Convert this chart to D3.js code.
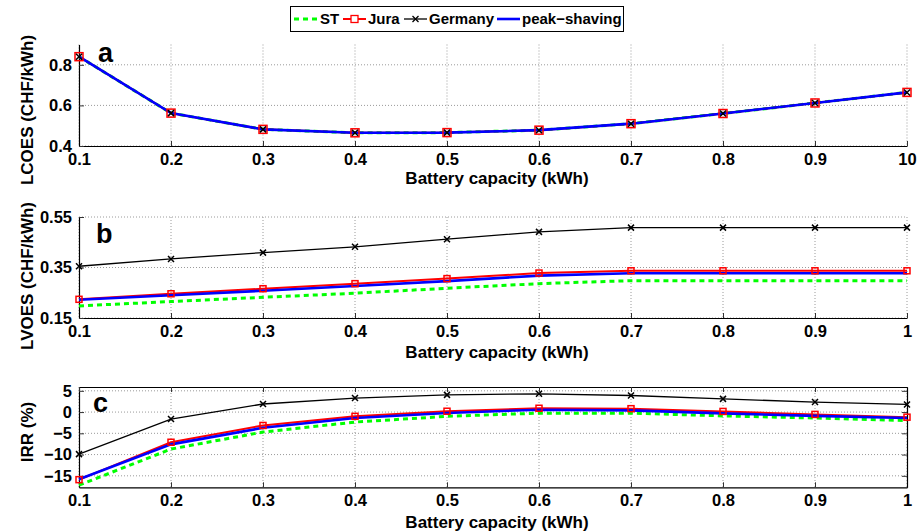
<!DOCTYPE html>
<html>
<head>
<meta charset="utf-8">
<script src="https://cdn.jsdelivr.net/npm/d3@7"></script>
<style>
  body { margin: 0; background: #fff; }
  svg { font-family: "Liberation Sans", Arial, sans-serif; font-weight: bold; }
  .grid line { stroke: #9a9a9a; stroke-width: 1; stroke-dasharray: 1,2; }
</style>
</head>
<body>
<svg id="chart" width="917" height="532"></svg>
<script>
// battery capacity (x values) and tick labels
var capacity = [0.1, 0.2, 0.3, 0.4, 0.5, 0.6, 0.7, 0.8, 0.9, 1.0];
var xLabelsA = ["0.1", "0.2", "0.3", "0.4", "0.5", "0.6", "0.7", "0.8", "0.9", "10"];
var xLabels = ["0.1", "0.2", "0.3", "0.4", "0.5", "0.6", "0.7", "0.8", "0.9", "1"];

// panel a: LCOES (CHF/kWh)
var lcoesST      = [0.840, 0.562, 0.482, 0.465, 0.466, 0.478, 0.510, 0.560, 0.612, 0.664];
var lcoesJura    = [0.840, 0.562, 0.482, 0.465, 0.466, 0.478, 0.510, 0.560, 0.612, 0.664];
var lcoesGermany = [0.840, 0.562, 0.482, 0.465, 0.466, 0.478, 0.510, 0.560, 0.612, 0.664];
var lcoesPeak    = [0.840, 0.562, 0.482, 0.465, 0.466, 0.478, 0.510, 0.560, 0.612, 0.664];

// panel b: LVOES (CHF/kWh)
var lvoesST      = [0.198, 0.215, 0.232, 0.248, 0.268, 0.286, 0.298, 0.298, 0.298, 0.298];
var lvoesJura    = [0.224, 0.246, 0.266, 0.286, 0.306, 0.328, 0.337, 0.337, 0.337, 0.337];
var lvoesGermany = [0.355, 0.384, 0.409, 0.432, 0.462, 0.491, 0.508, 0.508, 0.508, 0.508];
var lvoesPeak    = [0.222, 0.240, 0.258, 0.277, 0.296, 0.318, 0.327, 0.327, 0.327, 0.327];

// panel c: IRR (%)
var irrST      = [-17.2, -8.7, -4.7, -2.35, -1.0, -0.25, -0.25, -0.9, -1.4, -2.0];
var irrJura    = [-15.9, -7.1, -3.15, -1.0, 0.2, 0.9, 0.8, 0.15, -0.55, -1.2];
var irrGermany = [-9.9, -1.65, 1.9, 3.3, 4.05, 4.3, 3.9, 3.1, 2.35, 1.8];
var irrPeak    = [-15.8, -7.6, -3.7, -1.4, -0.2, 0.55, 0.4, -0.3, -0.9, -1.4];

var seriesNames = ["ST", "Jura", "Germany", "peak\u2212shaving"];

var svg = d3.select("#chart");
var left = 79, right = 907;

var x = d3.scaleLinear().domain([0.1, 1.0]).range([left, right]);

var styles = [
  {color: "#00ff00", width: 3, dash: "5,4", marker: null},
  {color: "#ff0000", width: 2, dash: null, marker: "square"},
  {color: "#000000", width: 1.3, dash: null, marker: "cross"},
  {color: "#0000ff", width: 2.6, dash: null, marker: null}
];

function drawPanel(cfg) {
  var y = d3.scaleLinear().domain(cfg.yDomain).range([cfg.bottom, cfg.top]);
  var g = svg.append("g");

  // grid
  var grid = g.append("g").attr("class", "grid");
  grid.selectAll(".gx").data(capacity).enter().append("line")
      .attr("x1", function(d) { return x(d); }).attr("x2", function(d) { return x(d); })
      .attr("y1", cfg.top).attr("y2", cfg.bottom);
  grid.selectAll(".gy").data(cfg.yTicks).enter().append("line")
      .attr("x1", left).attr("x2", right)
      .attr("y1", function(d) { return y(d); }).attr("y2", function(d) { return y(d); });

  // axes, ticks inward
  var xAxis = d3.axisBottom(x).tickValues(capacity)
      .tickFormat(function(d, i) { return cfg.xLabels[i]; })
      .tickSizeInner(-5).tickSizeOuter(0).tickPadding(7);
  var gx = g.append("g").attr("transform", "translate(0," + cfg.bottom + ")").call(xAxis);

  var yAxis = d3.axisLeft(y).tickValues(cfg.yTicks)
      .tickFormat(cfg.yFormat)
      .tickSizeInner(-5).tickSizeOuter(0).tickPadding(7);
  var gy = g.append("g").attr("transform", "translate(" + left + ",0)").call(yAxis);

  [gx, gy].forEach(function(a) {
    a.select(".domain").attr("stroke", "#000").attr("stroke-width", 1.2);
    a.selectAll(".tick line").attr("stroke", "#333");
    a.selectAll("text").attr("font-size", 16.5).attr("font-weight", "bold").attr("fill", "#000")
      .attr("font-family", "Liberation Sans, Arial, sans-serif");
  });

  if (cfg.box) {
    g.append("g").attr("transform", "translate(0," + cfg.top + ")")
      .call(d3.axisTop(x).tickValues(capacity).tickFormat("").tickSizeInner(-5).tickSizeOuter(0))
      .call(function(a) { a.select(".domain").attr("stroke", "#000").attr("stroke-width", 1.2); a.selectAll(".tick line").attr("stroke", "#333"); });
    g.append("g").attr("transform", "translate(" + right + ",0)")
      .call(d3.axisRight(y).tickValues(cfg.yTicks).tickFormat("").tickSizeInner(-5).tickSizeOuter(0))
      .call(function(a) { a.select(".domain").attr("stroke", "#000").attr("stroke-width", 1.2); a.selectAll(".tick line").attr("stroke", "#333"); });
  }

  // lines
  var line = d3.line()
      .x(function(d, i) { return x(capacity[i]); })
      .y(function(d) { return y(d); });

  [0, 1, 2, 3].forEach(function(k) {
    var s = styles[k];
    g.append("path")
      .datum(cfg.series[k])
      .attr("fill", "none")
      .attr("stroke", s.color)
      .attr("stroke-width", s.width)
      .attr("stroke-dasharray", s.dash)
      .attr("d", line);
  });

  // markers
  var ms = cfg.markerSize;
  g.selectAll(".sq").data(cfg.series[1]).enter().append("rect")
      .attr("x", function(d, i) { return x(capacity[i]) - ms / 2; })
      .attr("y", function(d) { return y(d) - ms / 2; })
      .attr("width", ms).attr("height", ms)
      .attr("fill", "none").attr("stroke", "#ff0000").attr("stroke-width", 1.5);
  g.selectAll(".cr").data(cfg.series[2]).enter().append("path")
      .attr("transform", function(d, i) { return "translate(" + x(capacity[i]) + "," + y(d) + ")"; })
      .attr("d", "M-3,-3L3,3M-3,3L3,-3")
      .attr("stroke", "#000").attr("stroke-width", 1.5);

  // panel letter
  g.append("text").attr("x", cfg.letterX).attr("y", cfg.letterY)
      .attr("font-size", 27).attr("font-weight", "bold").text(cfg.letter);

  // axis titles
  g.append("text").attr("x", (left + right) / 2 + 4).attr("y", cfg.xTitleY)
      .attr("text-anchor", "middle").attr("dy", "0.35em")
      .attr("font-size", 17).text("Battery capacity (kWh)");
  g.append("text")
      .attr("transform", "translate(27," + cfg.yTitleY + ") rotate(-90)")
      .attr("text-anchor", "middle").attr("dy", "0.35em")
      .attr("font-size", 17).text(cfg.yTitle);
}

drawPanel({
  top: 44.5, bottom: 146, yDomain: [0.4, 0.9], yTicks: [0.4, 0.6, 0.8],
  yFormat: d3.format(".1f"), xLabels: xLabelsA, box: false, markerSize: 8,
  series: [lcoesST, lcoesJura, lcoesGermany, lcoesPeak],
  letter: "a", letterX: 98, letterY: 62, xTitleY: 178,
  yTitle: "LCOES (CHF/kWh)", yTitleY: 110
});

drawPanel({
  top: 217, bottom: 318, yDomain: [0.15, 0.55], yTicks: [0.15, 0.35, 0.55],
  yFormat: d3.format(".2f"), xLabels: xLabels, box: false, markerSize: 6,
  series: [lvoesST, lvoesJura, lvoesGermany, lvoesPeak],
  letter: "b", letterX: 96, letterY: 243, xTitleY: 352,
  yTitle: "LVOES (CHF/kWh)", yTitleY: 276
});

drawPanel({
  top: 387, bottom: 487.3, yDomain: [-17.7, 5.9], yTicks: [-15, -10, -5, 0, 5],
  yFormat: d3.format("d"), xLabels: xLabels, box: true, markerSize: 6,
  series: [irrST, irrJura, irrGermany, irrPeak],
  letter: "c", letterX: 93, letterY: 412, xTitleY: 522,
  yTitle: "IRR (%)", yTitleY: 432
});

// legend
var legend = svg.append("g");
legend.append("rect").attr("x", 290.5).attr("y", 6.5).attr("width", 333).attr("height", 25)
    .attr("fill", "#fff").attr("stroke", "#000").attr("stroke-width", 1);
var legendX = [294, 343, 404, 497];
var legendTextX = [320, 368, 429, 522];
seriesNames.forEach(function(name, k) {
  var s = styles[k];
  var item = legend.append("g");
  item.append("line").attr("x1", legendX[k]).attr("x2", legendX[k] + 23)
      .attr("y1", 19).attr("y2", 19)
      .attr("stroke", s.color).attr("stroke-width", s.width).attr("stroke-dasharray", s.dash);
  var cx = legendX[k] + 11.5;
  if (s.marker === "square") {
    item.append("rect").attr("x", cx - 3.5).attr("y", 15.5).attr("width", 7).attr("height", 7)
        .attr("fill", "#fff").attr("stroke", "#ff0000").attr("stroke-width", 1.3);
  } else if (s.marker === "cross") {
    item.append("path").attr("transform", "translate(" + cx + ",19)")
        .attr("d", "M-3,-3L3,3M-3,3L3,-3").attr("stroke", "#000").attr("stroke-width", 1.3);
  }
  item.append("text").attr("x", legendTextX[k]).attr("y", 19).attr("dy", "0.35em")
      .attr("font-size", 15).text(name);
});
</script>
</body>
</html>
